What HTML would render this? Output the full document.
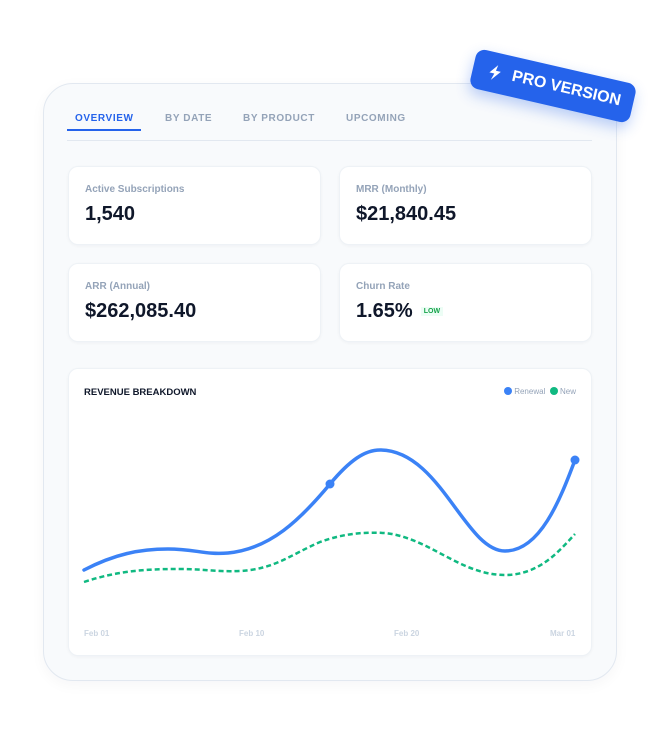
<!DOCTYPE html>
<html><head><meta charset="utf-8"><style>
*{box-sizing:border-box;margin:0;padding:0}
body{width:668px;height:730px;background:#fff;font-family:"Liberation Sans",sans-serif;position:relative;overflow:hidden}
.outer{position:absolute;left:43px;top:83px;width:574px;height:598px;background:#f8fafc;border:1px solid #e2e8f0;border-radius:30px;box-shadow:0 4px 14px rgba(15,23,42,.04)}
.tab{position:absolute;top:113px;font-size:10px;font-weight:bold;letter-spacing:.6px;color:#94a3b8}
.card{position:absolute;background:#fff;border:1px solid #eef2f6;border-radius:10px;box-shadow:0 1px 3px rgba(15,23,42,.04)}
.lbl{position:absolute;left:16px;top:17px;font-size:10px;font-weight:bold;color:#94a3b8}
.val{position:absolute;left:16px;top:36px;font-size:20px;font-weight:bold;color:#0f172a}
.badge{position:absolute;left:471px;top:66px;width:164px;height:40px;background:#2563eb;border-radius:9px;transform:rotate(13deg);color:#fff;font-weight:bold;font-size:16px;line-height:40px;padding-left:40px;box-shadow:0 6px 14px rgba(37,99,235,.3)}
.ax{position:absolute;top:629px;font-size:8px;font-weight:bold;color:#cbd5e1}
</style></head><body>
<div class="outer"></div>
<div class="tab" style="left:75px;color:#2563eb">OVERVIEW</div>
<div class="tab" style="left:165px">BY DATE</div>
<div class="tab" style="left:243px">BY PRODUCT</div>
<div class="tab" style="left:346px">UPCOMING</div>
<div style="position:absolute;left:67px;top:140px;width:525px;height:1px;background:#e2e8f0"></div>
<div style="position:absolute;left:67px;top:129px;width:74px;height:2px;background:#2563eb"></div>

<div class="card" style="left:68px;top:166px;width:253px;height:79px"><div class="lbl">Active Subscriptions</div><div class="val">1,540</div></div>
<div class="card" style="left:339px;top:166px;width:253px;height:79px"><div class="lbl">MRR (Monthly)</div><div class="val">$21,840.45</div></div>
<div class="card" style="left:68px;top:263px;width:253px;height:79px"><div class="lbl">ARR (Annual)</div><div class="val">$262,085.40</div></div>
<div class="card" style="left:339px;top:263px;width:253px;height:79px"><div class="lbl">Churn Rate</div><div class="val">1.65%<span style="font-size:7px;color:#16a34a;background:#ecfdf5;padding:1px 3px;margin-left:8px;vertical-align:4px">LOW</span></div></div>

<div class="card" style="left:68px;top:368px;width:524px;height:288px">
<div style="position:absolute;left:15px;top:18px;font-size:9.5px;font-weight:bold;color:#0f172a">REVENUE BREAKDOWN</div>
<div style="position:absolute;right:15px;top:18px;font-size:8px;color:#94a3b8"><span style="display:inline-block;width:8px;height:8px;border-radius:50%;background:#3b82f6;vertical-align:-1px"></span> Renewal &nbsp;<span style="display:inline-block;width:8px;height:8px;border-radius:50%;background:#10b981;vertical-align:-1px"></span> New</div>
</div>
<svg style="position:absolute;left:0;top:0" width="668" height="730">
<path d="M84,582 C120,570 150,569 180,569 C205,569 215,572 240,571 C275,569 290,555 320,542 C345,533 365,532 385,533 C430,538 460,575 505,575 C540,575 560,550 575,534" fill="none" stroke="#10b981" stroke-width="2.5" stroke-dasharray="5,3"/>
<path d="M84,570 C115,554 140,549 168,549 C195,549 205,555 228,553 C270,549 300,520 330,484 C350,460 365,450 380,450 C440,450 465,551 505,551 C540,551 560,500 575,460" fill="none" stroke="#3b82f6" stroke-width="3.5" stroke-linecap="round"/>
<circle cx="330" cy="484" r="4.5" fill="#3b82f6"/>
<circle cx="575" cy="460" r="4.5" fill="#3b82f6"/>
</svg>
<div class="ax" style="left:84px">Feb 01</div>
<div class="ax" style="left:239px">Feb 10</div>
<div class="ax" style="left:394px">Feb 20</div>
<div class="ax" style="left:550px">Mar 01</div>
<div class="badge"><svg style="position:absolute;left:17px;top:12px" width="11" height="16" viewBox="0 0 11 16"><path d="M7 0 L0 9 H5 L3 16 L11 6 H6 Z" fill="#fff"/></svg>PRO VERSION</div>
</body></html>
